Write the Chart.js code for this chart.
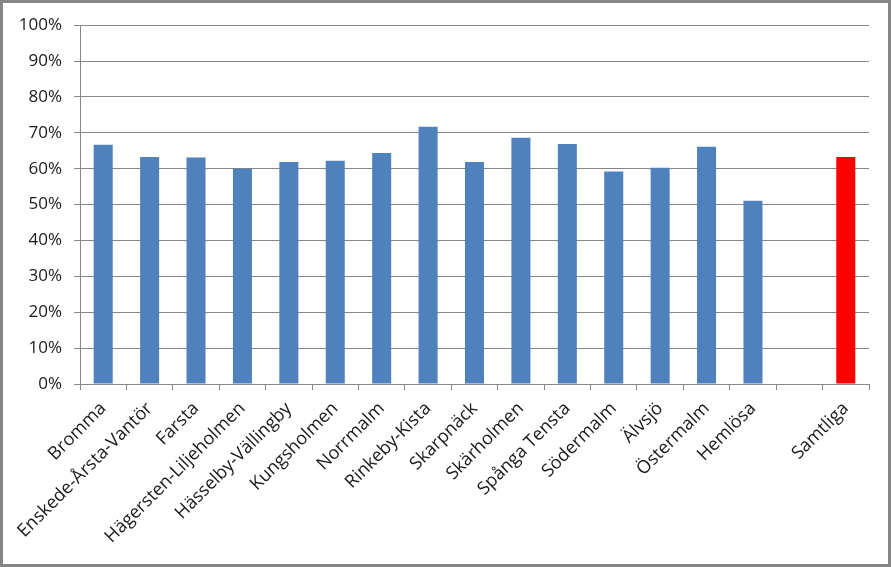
<!DOCTYPE html>
<html>
<head>
<meta charset="utf-8">
<script src="https://cdn.jsdelivr.net/npm/chart.js@4"></script>
<style>
  html, body { margin: 0; padding: 0; background: #fff; }
  #wrap { width: 891px; height: 567px; box-sizing: border-box; border: 3px solid #868686; }
</style>
</head>
<body>
<div id="wrap"><canvas id="chart" width="885" height="561"></canvas></div>
<script>
// Stadsdelar + total
const categories = ['Bromma', 'Enskede-Årsta-Vantör', 'Farsta', 'Hägersten-Liljeholmen', 'Hässelby-Vällingby',
    'Kungsholmen', 'Norrmalm', 'Rinkeby-Kista', 'Skarpnäck', 'Skärholmen', 'Spånga Tensta', 'Södermalm',
    'Älvsjö', 'Östermalm', 'Hemlösa', '', 'Samtliga'];
const shares = [66.7, 63.3, 63.1, 60.0, 61.9, 62.2, 64.4, 71.7, 61.9, 68.6, 66.9, 59.2, 60.3, 66.1, 51.1, null, 63.3];
const yTicks = [0, 10, 20, 30, 40, 50, 60, 70, 80, 90, 100];

const barColors = categories.map(c => c === 'Samtliga' ? '#FF0000' : '#4F81BD');

Chart.defaults.font.family = "'Open Sans', sans-serif";
Chart.defaults.font.size = 17;
Chart.defaults.color = '#1a1a1a';

const ctx = document.getElementById('chart').getContext('2d');
new Chart(ctx, {
    type: 'bar',
    data: {
        labels: categories,
        datasets: [{
            data: shares,
            backgroundColor: barColors,
            categoryPercentage: 1,
            barPercentage: 0.41
        }]
    },
    options: {
        responsive: false,
        animation: false,
        layout: { padding: { top: 21, right: 19, left: 0, bottom: 0 } },
        plugins: {
            legend: { display: false },
            tooltip: { enabled: false }
        },
        scales: {
            x: {
                afterFit: s => { s.height = 180; },
                grid: {
                    offset: true,
                    drawOnChartArea: false,
                    color: '#868686',
                    tickLength: 6
                },
                border: { color: '#868686', width: 1 },
                ticks: {
                    autoSkip: false,
                    minRotation: 45,
                    maxRotation: 45,
                    padding: 8,
                    font: { size: 18 }
                }
            },
            y: {
                min: 0,
                max: 100,
                afterFit: s => { s.width = 77; },
                afterBuildTicks: s => { s.ticks = yTicks.map(v => ({ value: v })); },
                grid: { color: '#868686', tickLength: 6 },
                border: { color: '#868686', width: 1 },
                ticks: {
                    padding: 12,
                    callback: v => v + '%'
                }
            }
        }
    }
});
</script>
</body>
</html>
